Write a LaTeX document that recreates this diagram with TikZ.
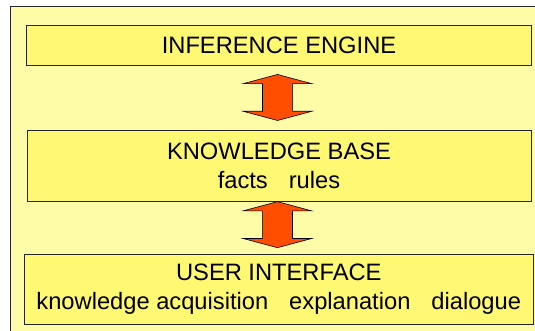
\documentclass[tikz,border=0pt]{standalone}
\usepackage{fontspec}
\setmainfont{Liberation Sans}
\usetikzlibrary{shapes.arrows,calc}
\definecolor{paleyellow}{HTML}{FFFCA8}
\definecolor{boxyellow}{HTML}{FFF872}
\definecolor{arroworange}{HTML}{FF4E00}
\tikzset{
  layer/.style = {draw=black!85, fill=boxyellow, line width=1pt, align=center, inner sep=0pt, font=\fontsize{23.7}{28.5}\selectfont},
  updown/.style = {double arrow, draw=black, fill=arroworange, line width=0.6pt, rotate=90,
    minimum height=46pt, minimum width=68pt, inner xsep=0pt, inner ysep=14.75pt,
    double arrow head extend=19.25pt, double arrow tip angle=150}
}
\newcommand{\gap}{\hspace{21pt}}

\begin{document}
\begin{tikzpicture}[x=1pt,y=-1pt]
	\clip (0,0) rectangle (535,331);
	\draw[fill=paleyellow, draw=black!85, line width=1pt] (10,7) rectangle (560,360);
	% the three layers
	\node [layer, minimum width=505pt, minimum height=40.6pt] (ie) at (279,45.6) {INFERENCE ENGINE};
	\node [layer, minimum width=504pt, minimum height=70.7pt] (kb) at (279,166) {KNOWLEDGE BASE\\facts\gap{}rules};
	\node [layer, minimum width=508.4pt, minimum height=70.6pt] (ui) at (278.8,289.3) {USER INTERFACE\\knowledge acquisition\gap{}explanation\gap{}dialogue};
	% links between them
	\node [updown] (ie-kb) at ($(ie.south)!0.5!(kb.north)+(-1.5,-0.8)$) {};
	\node [updown] (kb-ui) at ($(kb.south)!0.5!(ui.north)+(-1.5,-3)$) {};
\end{tikzpicture}
\end{document}
